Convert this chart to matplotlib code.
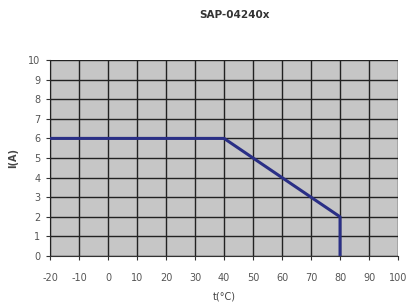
import numpy as np
import matplotlib
matplotlib.use("Agg")
import matplotlib.pyplot as plt

plt.rcParams["axes.unicode_minus"] = False

# derating curve
temp = [-20, 40, 80, 80]
current = [6, 6, 2, 0]
x_ticks = list(range(-20, 101, 10))
y_ticks = list(range(0, 11))

fig = plt.figure(figsize=(4.07, 3.03), dpi=100)
ax = fig.add_axes([0.123, 0.155, 0.855, 0.647])
ax.set_facecolor("#c6c6c6")

ax.plot(temp, current, color="#2a2f86", lw=2.2, zorder=3)

ax.set_xlim(-20, 100)
ax.set_ylim(0, 10)
ax.set_xticks(x_ticks)
ax.set_yticks(y_ticks)
ax.grid(True, color="#222222", lw=1.0)
ax.set_axisbelow(False)
for s in ax.spines.values():
    s.set_visible(False)
ax.spines["left"].set_visible(True)
ax.spines["bottom"].set_visible(True)
ax.spines["left"].set_color("#333333")
ax.spines["bottom"].set_color("#333333")
ax.tick_params(labelsize=7, colors="#555555", length=3)
ax.tick_params(axis="x", pad=9)
ax.tick_params(axis="y", pad=4)
ax.tick_params(axis="both", color="#333333")

ax.set_title("SAP-04240x", fontsize=7.5, fontweight="bold", color="#333333",
             pad=30, x=0.53)
ax.set_xlabel("t(°C)", fontsize=7, color="#444444", labelpad=6)
ax.set_ylabel("I(A)", fontsize=7, fontweight="bold", color="#444444", labelpad=7)

fig.savefig("out.png", dpi=100)
